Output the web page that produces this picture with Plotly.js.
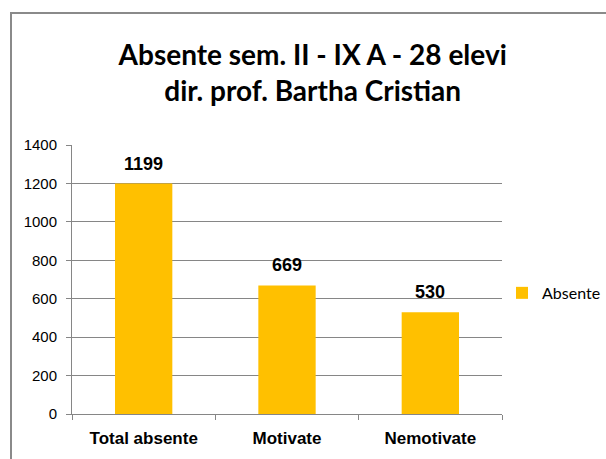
<!DOCTYPE html>
<html>
<head>
<meta charset="utf-8">
<script src="https://cdn.plot.ly/plotly-3.0.1.min.js"></script>
<style>
  html, body { margin: 0; padding: 0; background: #fff; }
  #wrap { position: relative; width: 606px; height: 459px; overflow: hidden; }
  #chart { position: absolute; left: 0; top: 0; width: 606px; height: 459px; }
  #frame { position: absolute; left: 10px; top: 12px; width: 700px; height: 500px;
           border-left: 2px solid #8a8a8a; border-top: 2px solid #8a8a8a; pointer-events: none; }
</style>
</head>
<body>
<div id="wrap">
  <div id="chart"></div>
  <div id="frame"></div>
</div>
<script>
// Absences for class IX A, second semester
const categories = ["Total absente", "Motivate", "Nemotivate"];
const absente = [1199, 669, 530];
const seriesName = "Absente";
const yTicks = [0, 200, 400, 600, 800, 1000, 1200, 1400];

const sans = "'Liberation Sans', Arial, sans-serif";
const humanist = "Lato, 'Liberation Sans', sans-serif";

const trace = {
  type: "bar",
  x: categories,
  y: absente,
  name: seriesName,
  marker: { color: "#FFC000" },
  showlegend: true,
  hoverinfo: "none"
};

// value labels sitting a little above each bar
const valueLabels = categories.map((c, i) => ({
  x: c,
  y: absente[i],
  xref: "x", yref: "y",
  text: "<b>" + absente[i] + "</b>",
  showarrow: false,
  yanchor: "bottom",
  yshift: 8,
  font: { family: sans, size: 18, color: "#000" }
}));

const layout = {
  width: 606,
  height: 459,
  margin: { l: 72, r: 104, t: 145, b: 45, autoexpand: false },
  paper_bgcolor: "#fff",
  plot_bgcolor: "#fff",
  bargap: 0.6,
  title: {
    text: "<b>Absente sem. II - IX A - 28 elevi<br>dir. prof. Bartha Cristian</b>",
    font: { family: humanist, size: 28, color: "#000" },
    x: 0.516, xanchor: "center",
    y: 1 - 65 / 459, yanchor: "middle",
    xref: "container", yref: "container"
  },
  xaxis: {
    type: "category",
    showline: true, linecolor: "#868686", linewidth: 1,
    ticks: "outside", tickson: "boundaries", ticklen: 5, tickcolor: "#868686",
    ticklabelstandoff: 9,
    tickfont: { family: sans, size: 17, color: "#000", weight: "bold" },
    showgrid: false
  },
  yaxis: {
    range: [0, 1400],
    tickvals: yTicks,
    ticktext: yTicks.map(String),
    showline: true, linecolor: "#868686", linewidth: 1,
    ticks: "outside", ticklen: 5, tickcolor: "#868686",
    ticklabelstandoff: 6,
    tickfont: { family: sans, size: 15, color: "#000" },
    showgrid: true, gridcolor: "#868686", gridwidth: 1,
    zeroline: false
  },
  annotations: valueLabels,
  legend: {
    x: 1.0, xanchor: "left",
    y: 0.45, yanchor: "middle",
    font: { family: humanist, size: 16, color: "#000" },
    itemwidth: 30
  }
};

Plotly.newPlot("chart", [trace], layout, { displayModeBar: false, staticPlot: true });
</script>
</body>
</html>
